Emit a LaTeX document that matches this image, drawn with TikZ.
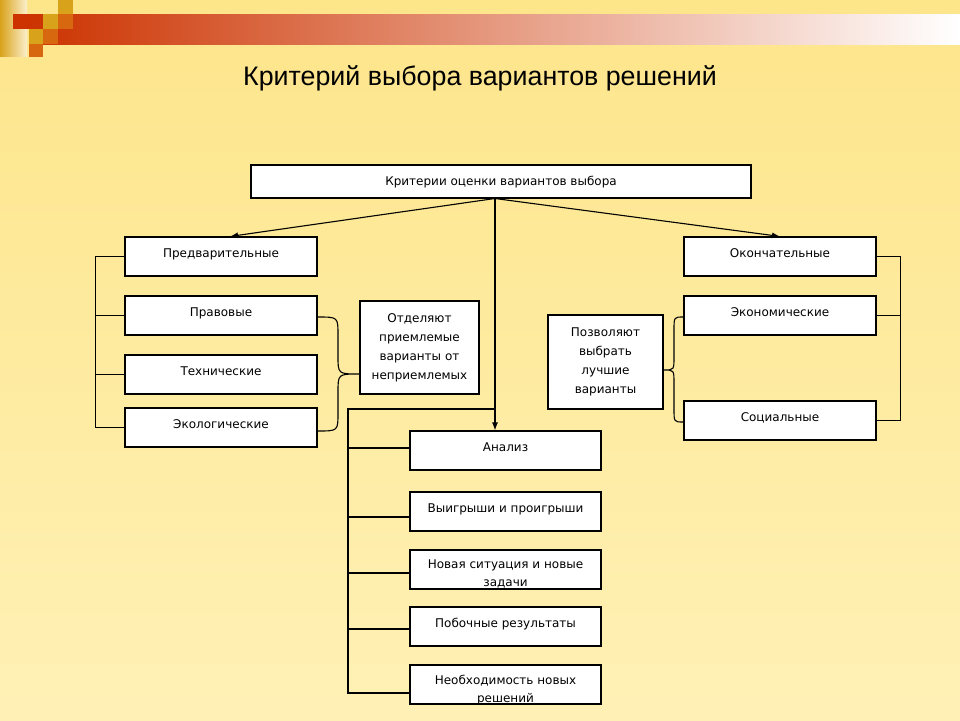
\documentclass[tikz,border=0pt]{standalone}
\usepackage{fontspec}
\setmainfont{Liberation Sans}
\newfontfamily\boxfont{DejaVu Sans}
\usetikzlibrary{arrows.meta}
\definecolor{bgtop}{HTML}{FDE58A}
\definecolor{bgbot}{HTML}{FFF1B6}
\definecolor{bandL}{HTML}{CC3300}
\definecolor{sqgold}{HTML}{D9A21B}
\definecolor{sqorange}{HTML}{D8680F}
\definecolor{sqred}{HTML}{CC3300}
\definecolor{cream}{HTML}{FBF0CC}
\begin{document}
\begin{tikzpicture}[x=1pt,y=-1pt,
  box/.style={draw=black, line width=1.1pt, fill=white, inner sep=0pt, align=center,
    font=\boxfont\fontsize{12}{19}\selectfont},
  onel/.style={text height=20pt, text depth=19pt},
  side/.style={minimum width=192pt, minimum height=39pt},
  twol/.style={font=\boxfont\fontsize{12}{18}\selectfont},
  link/.style={line width=1.1pt},
  arr/.style={line width=1.1pt, -{Latex[length=8pt,width=6pt]}}]
\useasboundingbox (0,0) rectangle (960,720);
% background
\fill[top color=bgtop, bottom color=bgbot] (0,0) rectangle (960,720);
\fill[left color=bandL, right color=white] (29,14) rectangle (960,44);
% decorative squares
\fill[left color=sqgold, right color=cream] (0,0) rectangle (27,56);
\fill[sqred] (13,14) rectangle (29,29);
\fill[sqgold] (58,0) rectangle (73,14);
\fill[sqgold] (43,14) rectangle (58,29);
\fill[sqorange] (58,14) rectangle (73,29);
\fill[sqgold] (29,29) rectangle (43,44);
\fill[sqorange] (43,29) rectangle (58,44);
\fill[sqorange] (29,44) rectangle (43,57);
% title
\node[font=\fontsize{26.8}{30}\selectfont] (title) at (480,78) {Критерий выбора вариантов решений};
% top box
\node[box, text height=20pt, text depth=13pt, minimum width=500pt, minimum height=33pt] (top) at (501,181.5) {Критерии оценки вариантов выбора};
\coordinate (hub) at (495,198.5);
% left column
\node[box,onel,side] (pred) at (221,256.5) {Предварительные};
\node[box,onel,side] (prav) at (221,315.5) {Правовые};
\node[box,onel,side] (tech) at (221,374.5) {Технические};
\node[box,onel,side] (ekol) at (221,427.5) {Экологические};
\node[box, minimum width=119pt, minimum height=93pt] (otd) at (419.5,347.5) {Отделяют\\приемлемые\\варианты от\\неприемлемых};
% right column
\node[box,onel,side] (okon) at (780,256.5) {Окончательные};
\node[box,onel,side] (ekon) at (780,315.5) {Экономические};
\node[box,onel,side] (soc) at (780,420.5) {Социальные};
\node[box, minimum width=115pt, minimum height=94pt] (pozv) at (605.5,362) {Позволяют\\выбрать\\лучшие\\варианты};
% bottom column
\node[box,onel,minimum width=191pt,minimum height=39pt] (anal) at (505.5,450.5) {Анализ};
\node[box,onel,minimum width=191pt,minimum height=39pt] (vyig) at (505.5,511.5) {Выигрыши и проигрыши};
\node[box,twol,text height=36pt,text depth=3pt,minimum width=191pt,minimum height=39pt] (nova) at (505.5,569.5) {Новая ситуация и новые\\задачи};
\node[box,onel,minimum width=191pt,minimum height=39pt] (pob) at (505.5,626.5) {Побочные результаты};
\node[box,twol,text height=37pt,text depth=2pt,minimum width=191pt,minimum height=39pt] (neob) at (505.5,684.5) {Необходимость новых\\решений};
% arrows from top box
\draw[arr] (hub) -- ([xshift=9pt]pred.north);
\draw[arr] (hub) -- (okon.north);
\draw[arr] (hub) -- (hub |- anal.north);
% left bracket
\draw[link] (pred.west) -- ++(-29,0) |- (ekol.west);
\draw[link] (prav.west) -- ++(-29,0);
\draw[link] (tech.west) -- ++(-29,0);
% right bracket
\draw[link] (okon.east) -- ++(24,0) |- (soc.east);
\draw[link] (ekon.east) -- ++(24,0);
% left brace
\draw[link] (prav.east |- 0,317) .. controls (338,317) .. (338,335) -- (338,356)
  .. controls (338,374) .. (otd.west |- 0,374)
  .. controls (338,374) .. (338,392) -- (338,413)
  .. controls (338,431) .. (ekol.east |- 0,431);
% right brace
\draw[link] (ekon.west |- 0,317) .. controls (674,317) .. (674,330) -- (674,357)
  .. controls (674,370) .. (pozv.east |- 0,370)
  .. controls (674,370) .. (674,383) -- (674,409)
  .. controls (674,422) .. (soc.west |- 0,422);
% bottom bracket
\coordinate (bj) at (495,409);
\draw[link] (bj) -- (348,409) -- (348,693) -- (neob.west |- 0,693);
\draw[link] (348,448) -- (anal.west |- 0,448);
\draw[link] (348,517) -- (vyig.west |- 0,517);
\draw[link] (348,573) -- (nova.west |- 0,573);
\draw[link] (348,629) -- (pob.west |- 0,629);
\end{tikzpicture}
\end{document}
